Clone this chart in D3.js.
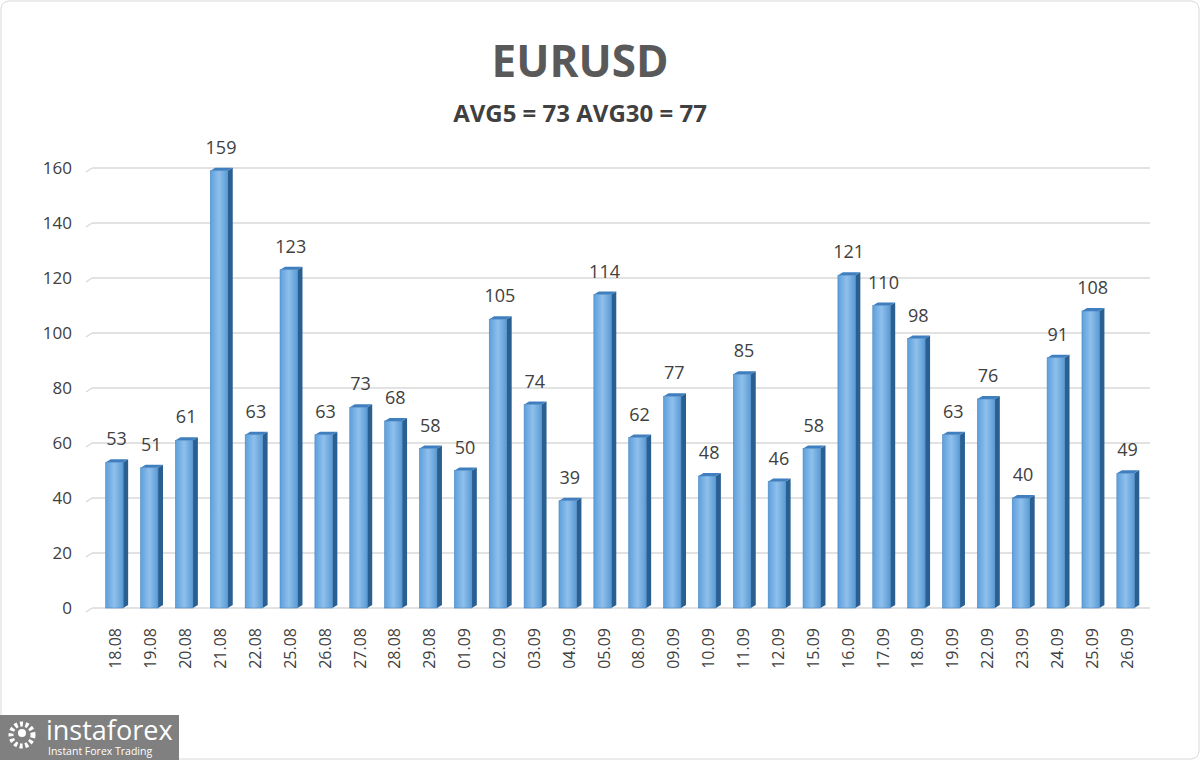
<!DOCTYPE html>
<html><head><meta charset="utf-8">
<script src="https://cdn.jsdelivr.net/npm/d3@7/dist/d3.min.js"></script>
<style>body{margin:0;background:#fff}svg{display:block}</style>
</head><body>
<svg id="c" width="1200" height="760"></svg>
<script>
const categories=["18.08","19.08","20.08","21.08","22.08","25.08","26.08","27.08","28.08","29.08","01.09","02.09","03.09","04.09","05.09","08.09","09.09","10.09","11.09","12.09","15.09","16.09","17.09","18.09","19.09","22.09","23.09","24.09","25.09","26.09"];
const values=[53,51,61,159,63,123,63,73,68,58,50,105,74,39,114,62,77,48,85,46,58,121,110,98,63,76,40,91,108,49];
const yTicks=[0,20,40,60,80,100,120,140,160];
const title="EURUSD", subtitle="AVG5 = 73 AVG30 = 77";

const svg=d3.select("#c");
const F="'Open Sans', 'Liberation Sans', sans-serif";
svg.append("rect").attr("x",1).attr("y",1).attr("width",1198).attr("height",758).attr("rx",8).attr("fill","#fff").attr("stroke","#d9d9d9");
const defs=svg.append("defs");
const g1=defs.append("linearGradient").attr("id","bf");
g1.append("stop").attr("offset","0").attr("stop-color","#5d9fdc");
g1.append("stop").attr("offset","0.5").attr("stop-color","#8fc0ec");
g1.append("stop").attr("offset","1").attr("stop-color","#5b9bd5");

const x=d3.scaleBand().domain(categories).range([97,1143]).paddingInner(0.5).paddingOuter(0.25);
const y=d3.scaleLinear().domain([0,160]).range([608,168]);
const D=5;
yTicks.forEach(t=>{
  svg.append("line").attr("x1",92).attr("x2",1150).attr("y1",y(t)).attr("y2",y(t)).attr("stroke","#d9d9d9").attr("stroke-width",1.3);
  svg.append("line").attr("x1",86).attr("x2",92).attr("y1",y(t)+4).attr("y2",y(t)).attr("stroke","#d9d9d9").attr("stroke-width",1.3);
});
svg.append("g").selectAll("text").data(yTicks).join("text")
 .attr("x",72).attr("y",d=>y(d)+6).attr("text-anchor","end").attr("font-family",F).attr("font-size",17).attr("fill","#404040").text(d=>d);
const bars=svg.append("g").selectAll("g").data(values).join("g");
bars.append("path").attr("fill","#2a5f92").attr("d",(d,i)=>{const x0=x(categories[i])+x.bandwidth(),t=y(d);return `M${x0},${t}L${x0+D},${t-3}L${x0+D},${608-3}L${x0},608Z`;});
bars.append("path").attr("fill","#3f7fbf").attr("d",(d,i)=>{const x0=x(categories[i]),w=x.bandwidth(),t=y(d);return `M${x0},${t}L${x0+D},${t-3}L${x0+w+D},${t-3}L${x0+w},${t}Z`;});
bars.append("rect").attr("x",(d,i)=>x(categories[i])).attr("y",d=>y(d)).attr("width",x.bandwidth()).attr("height",d=>608-y(d)).attr("fill","url(#bf)").attr("stroke","#4a86c0").attr("stroke-width",0.6);
svg.append("g").selectAll("text").data(values).join("text")
 .attr("x",(d,i)=>x(categories[i])+x.bandwidth()/2+2).attr("y",d=>y(d)-17).attr("text-anchor","middle").attr("font-family",F).attr("font-size",18).attr("fill","#404040").text(d=>d);
svg.append("g").selectAll("text").data(categories).join("text")
 .attr("transform",(d,i)=>`translate(${x(d)+x.bandwidth()/2+7},628) rotate(-90)`).attr("text-anchor","end").attr("font-family",F).attr("font-size",16).attr("fill","#404040").text(d=>d);
svg.append("text").attr("x",580).attr("y",77).attr("text-anchor","middle").attr("font-family",F).attr("font-weight","bold").attr("font-size",44).attr("fill","#595959").text(title);
svg.append("text").attr("x",580).attr("y",122).attr("text-anchor","middle").attr("font-family",F).attr("font-weight","bold").attr("font-size",24).attr("fill","#404040").text(subtitle);
svg.append("rect").attr("x",0).attr("y",715).attr("width",179).attr("height",45).attr("fill","#808080");
const lg=svg.append("g").attr("transform","translate(22,735)");
lg.append("circle").attr("r",11).attr("fill","none").attr("stroke","#fff").attr("stroke-width",5).attr("stroke-dasharray","3 2.5");
lg.append("circle").attr("r",4).attr("fill","#fff").attr("cy",-2);
svg.append("text").attr("x",46).attr("y",740).attr("font-family",F).attr("font-size",27).attr("fill","#fff").text("instaforex");
svg.append("text").attr("x",48).attr("y",755).attr("font-family",F).attr("font-size",10.5).attr("fill","#fff").text("Instant Forex Trading");
</script></body></html>
